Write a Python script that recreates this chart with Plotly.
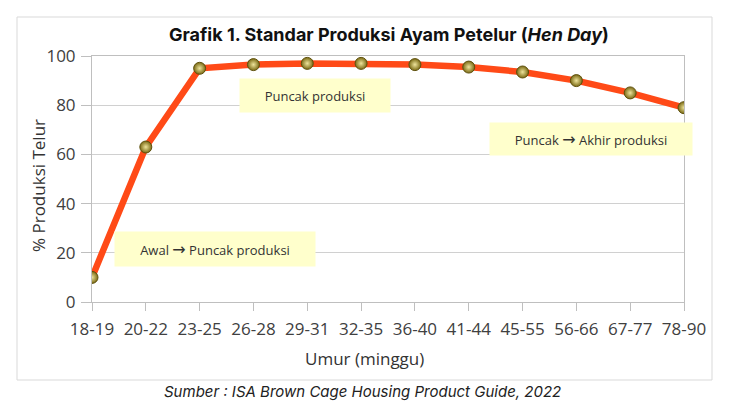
import plotly.graph_objects as go

umur = ["18-19", "20-22", "23-25", "26-28", "29-31", "32-35", "36-40",
        "41-44", "45-55", "56-66", "67-77", "78-90"]
produksi = [10, 63, 95, 96.5, 97, 97, 96.5, 95.5, 93.5, 90, 85, 79]
y_ticks = [0, 20, 40, 60, 80, 100]

W, H = 730, 409
L, R, T, B = 92, 684, 56, 302


def px(x):
    return (x - L) / (R - L)


def py(y):
    return (B - y) / (B - T)


fig = go.Figure()
fig.add_trace(go.Scatter(
    x=umur, y=produksi, mode="lines+markers",
    line=dict(color="#FF4A17", width=6.5),
    marker=dict(size=12, color="#7A6A14",
                gradient=dict(type="radial", color="#EEE49C"),
                line=dict(color="#5E500C", width=1)),
    hoverinfo="x+y", showlegend=False,
))

tick_font = dict(family="Open Sans", size=17, color="#404040")
fig.update_xaxes(
    type="category", range=[0, len(umur) - 1],
    showline=True, linecolor="#BFBFBF", linewidth=1, mirror=True,
    ticks="outside", ticklen=8, tickcolor="#BFBFBF", tickwidth=1,
    showgrid=False, tickfont=tick_font, zeroline=False,
    ticklabelstandoff=4,
)
fig.update_yaxes(
    range=[0, 100], tickvals=y_ticks,
    showline=True, linecolor="#BFBFBF", linewidth=1, mirror=True,
    ticks="outside", ticklen=10, tickcolor="#BFBFBF", tickwidth=1,
    showgrid=True, gridcolor="#D0D0D0", gridwidth=1,
    tickfont=tick_font, zeroline=False, ticklabelstandoff=2,
)

shapes = [dict(type="rect", xref="paper", yref="paper",
               x0=px(17), x1=px(712), y0=py(380), y1=py(17),
               line=dict(color="#D9D9D9", width=1), fillcolor="rgba(0,0,0,0)",
               layer="below")]

ARROW = "<span style='font-family:DejaVu Sans;font-size:16px'>\u2192</span>"
box_font = dict(family="Open Sans", size=13, color="#333333")
ann = [
    dict(text="Puncak produksi", x=px(315), y=py(95.5), width=150, height=33),
    dict(text="Puncak " + ARROW + " Akhir produksi", x=px(591), y=py(139), width=202, height=32),
    dict(text="Awal " + ARROW + " Puncak produksi", x=px(215), y=py(249), width=200, height=34),
]
annotations = []
for a in ann:
    annotations.append(dict(
        text=a["text"], x=a["x"], y=a["y"], xref="paper", yref="paper",
        xanchor="center", yanchor="middle", showarrow=False,
        width=a["width"], height=a["height"], bgcolor="#FFFFCC",
        borderpad=0, font=box_font, align="center", valign="middle",
    ))

annotations += [
    dict(text="<b>Grafik 1. Standar Produksi Ayam Petelur (<i>Hen Day</i>)</b>",
         x=px(389), y=py(35), xref="paper", yref="paper", showarrow=False,
         xanchor="center", yanchor="middle",
         font=dict(family="Inter", size=18, color="#111111")),
    dict(text="% Produksi Telur", x=px(38), y=py(186), xref="paper", yref="paper",
         showarrow=False, textangle=-90, xanchor="center", yanchor="middle",
         font=dict(family="Open Sans", size=17, color="#333333")),
    dict(text="Umur (minggu)", x=px(364), y=py(358), xref="paper", yref="paper",
         showarrow=False, xanchor="center", yanchor="middle",
         font=dict(family="Open Sans", size=17, color="#333333")),
    dict(text="<i>Sumber : ISA Brown Cage Housing Product Guide, 2022</i>",
         x=px(362), y=py(392), xref="paper", yref="paper", showarrow=False,
         xanchor="center", yanchor="middle",
         font=dict(family="Inter", size=15, color="#222222", weight=400)),
]

fig.update_layout(
    width=W, height=H,
    margin=dict(l=L, r=W - R, t=T, b=H - B, pad=0),
    paper_bgcolor="white", plot_bgcolor="white",
    shapes=shapes, annotations=annotations,
)

fig.write_html("out.html", config={"displayModeBar": False},
               post_script="document.body.style.margin='0';document.body.style.overflow='hidden';")
